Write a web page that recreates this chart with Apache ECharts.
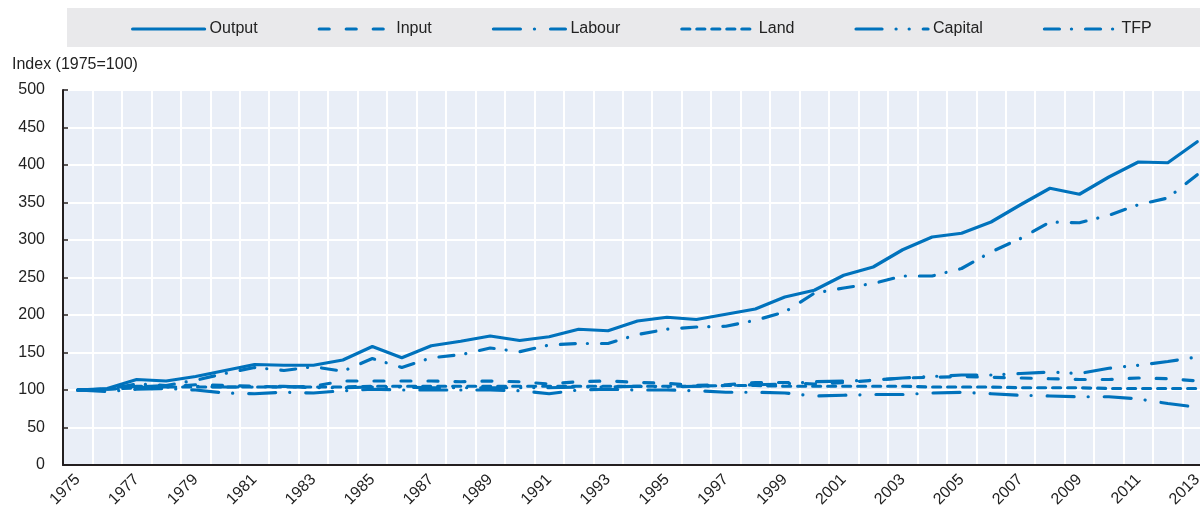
<!DOCTYPE html>
<html>
<head>
<meta charset="utf-8">
<script src="https://cdn.jsdelivr.net/npm/echarts@6/dist/echarts.min.js"></script>
<style>
    html, body { margin: 0; padding: 0; background: #fff; }
    #chart { width: 1200px; height: 507px; }
</style>
</head>
<body>
<div id="chart"></div>
<script>
    // years 1975 - 2013
    const years = []
    for (let y = 1975; y <= 2013; y++) years.push(String(y))

    const output  = [100,102,114,112,118,126,134,133,133,140,158,143,159,165,172,166,171,181,179,192,197,194,201,208,224,233,253,264,287,304,309,324,347,369,361,384,404,403,431]
    const input   = [100,101,105,104,107,106,105,104,105,112,112,112,112,111,112,111,108,111,112,110,109,106,107,110,110,108,110,113,116,117,118,117,116,115,114,114,116,115,112]
    const labour  = [100,98,101,102,100,96,95,97,96,99,101,100,100,100,100,99,95,100,101,100,100,99,97,97,96,92,93,94,94,96,97,95,93,92,91,91,88,82,77]
    const land    = [100,101,103,104,104,104,104,104,104,104,105,105,105,105,105,105,105,105,105,105,105,105,106,106,105,105,105,105,105,104,104,104,103,103,103,102,102,102,102]
    const capital = [100,101,104,106,105,104,104,105,103,103,104,104,103,103,103,103,103,104,104,105,104,105,106,107,108,111,112,113,116,118,120,120,122,124,122,129,133,138,144]
    const tfp     = [100,101,108,106,113,122,130,126,131,125,142,130,143,147,156,151,160,162,162,174,181,184,185,193,204,229,236,242,252,252,262,284,302,324,323,333,347,356,387]

    const blue = '#0072bc'
    const font = 'Liberation Sans, Arial, sans-serif'

    function line(name, data, type) {
        return {
            name: name,
            type: 'line',
            data: data,
            symbol: 'none',
            color: blue,
            lineStyle: { width: 3.2, color: blue, type: type, cap: 'round', join: 'round' },
            emphasis: { disabled: true }
        }
    }

    let myChart = echarts.init(document.getElementById('chart'))
    let options = {
        animation: false,
        textStyle: { fontFamily: font },
        graphic: [
            { type: 'rect', z: -1, shape: { x: 67, y: 8, width: 1140, height: 39 }, style: { fill: '#e9e9eb' } },
            { type: 'text', left: 12, top: 57, style: { text: 'Index (1975=100)', fontSize: 16, fontFamily: font, fill: '#222' } }
        ],
        legend: {
            left: 131,
            top: 21,
            padding: 0,
            itemWidth: 72,
            itemHeight: 14,
            itemGap: 60,
            itemStyle: { opacity: 0 },
            lineStyle: { width: 3.2, cap: 'round' },
            textStyle: { fontSize: 16, color: '#222', fontFamily: font },
            data: ['Output', 'Input', 'Labour', 'Land', 'Capital', 'TFP']
        },
        grid: {
            left: 63,
            top: 90,
            width: 1149,
            height: 375,
            outerBoundsMode: 'none',
            show: true,
            backgroundColor: '#e9eef7',
            borderWidth: 0
        },
        xAxis: {
            type: 'category',
            data: years,
            boundaryGap: true,
            axisLine: { lineStyle: { color: '#231f20', width: 2 } },
            axisTick: { inside: true, length: 5, interval: 0, lineStyle: { color: '#231f20', width: 1.5 } },
            axisLabel: { interval: 1, rotate: 45, fontSize: 16, color: '#222', margin: 12 },
            splitLine: { show: true, interval: 0, lineStyle: { color: '#fff', width: 2 } }
        },
        yAxis: {
            type: 'value',
            min: 0,
            max: 500,
            interval: 50,
            axisLine: { show: true, lineStyle: { color: '#231f20', width: 2 } },
            axisTick: { show: true, inside: true, length: 5, lineStyle: { color: '#231f20', width: 1.5 } },
            axisLabel: { fontSize: 16, color: '#222', margin: 18 },
            splitLine: { lineStyle: { color: '#fff', width: 2 } }
        },
        series: [
            line('Output', output, 'solid'),
            line('Input', input, [10, 17]),
            line('Labour', labour, [27, 14, 0.1, 16]),
            line('Land', land, [8, 7]),
            line('Capital', capital, [26, 14, 0.1, 13, 0.1, 14]),
            line('TFP', tfp, [15, 12, 0.1, 14])
        ]
    }
    myChart.setOption(options)
</script>
</body>
</html>
